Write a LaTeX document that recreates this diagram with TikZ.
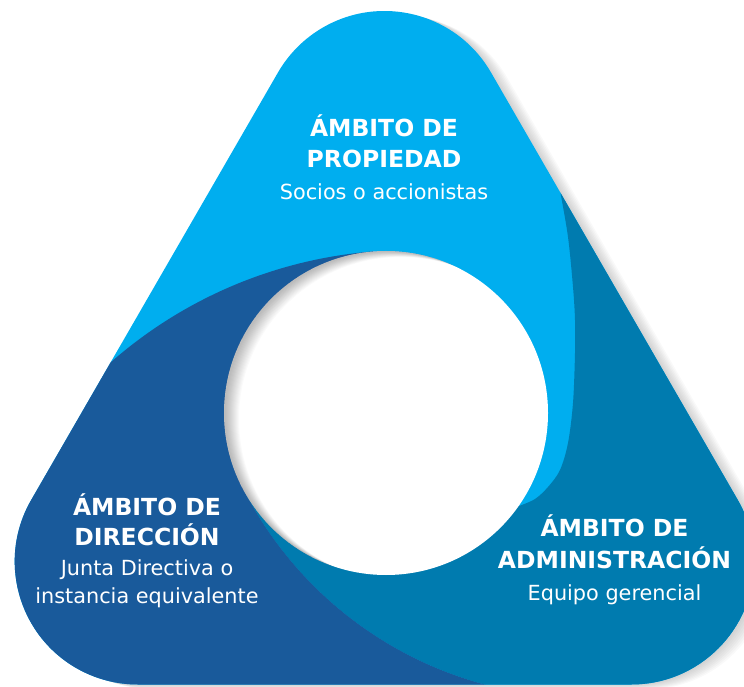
\documentclass[tikz,border=0pt]{standalone}
\usepackage{fontspec}
\setmainfont{DejaVu Sans}
\definecolor{lightb}{RGB}{0,174,239}
\definecolor{tealb}{RGB}{0,123,175}
\definecolor{darkb}{RGB}{25,90,155}
\begin{document}
\begin{tikzpicture}[x=1pt,y=1pt,
  tri/.style={insert path={(491.02,613.5) arc[start angle=30,end angle=150,radius=123] -- (31.18,186) arc[start angle=150,end angle=270,radius=123] -- (631.3,1.5) arc[start angle=270,end angle=390,radius=123] -- cycle}},
  ttl/.style={anchor=base, text=white, inner sep=0pt, font=\bfseries\fontsize{23.5}{28}\selectfont},
  subtxt/.style={anchor=base, text=white, inner sep=0pt, font=\fontsize{20.8}{25}\selectfont}]
\useasboundingbox (0,0) rectangle (744,686);
% soft drop shadow of the rounded triangle
\foreach \k in {2,4,...,16} \fill[black, opacity=0.025, shift={(\k,-0.3*\k)}, tri];
% coloured sectors
\begin{scope}
  \clip[tri];
  \fill[lightb] (-10,-10) rectangle (760,700);
  % administracion (teal)
  \fill[tealb] (241.0,201.6) -- (519,180)
     -- plot[smooth, tension=0.55] coordinates {(519,180) (535,187) (548,199) (560,216) (568,243) (573,283) (575,333) (575,366) (573,399) (568,449) (560,496) (553,536) (545,576)}
     -- (900,576) -- (900,-100) -- (550,-100) -- (549.96,-9.95)
     arc[start angle=265, end angle=206.2, radius=381.4] -- cycle;
  % direccion (dark blue)
  \fill[darkb] (373.28,434.6) -- (241.0,201.6)
     arc[start angle=206.2, end angle=265, radius=381.4]
     -- (550,-100) -- (-200,-100) -- (-200,262.51) -- (52.99,262.51)
     arc[start angle=142, end angle=94.5, radius=451.4] -- cycle;
\end{scope}
% central hole with inner shadow
\begin{scope}
  \clip (386,273) circle[radius=162];
  \fill[white] (386,273) circle[radius=163];
  \foreach \k in {2,3,...,15}
    \fill[black, opacity=0.018, even odd rule] (386,273) circle[radius=164] ({386+\k},{273-0.4*\k}) circle[radius=162];
\end{scope}
% texts
\node[ttl] (p1) at (384,549) {ÁMBITO DE};
\node[ttl] (p2) at (384,518) {PROPIEDAD};
\node[subtxt] (p3) at (384,486) {Socios o accionistas};
\node[ttl] (d1) at (147,170.3) {ÁMBITO DE};
\node[ttl] (d2) at (147,140.3) {DIRECCIÓN};
\node[subtxt] (d3) at (147,111) {Junta Directiva o};
\node[subtxt] (d4) at (147,83) {instancia equivalente};
\node[ttl] (a1) at (614.5,149.3) {ÁMBITO DE};
\node[ttl] (a2) at (614.5,118) {ADMINISTRACIÓN};
\node[subtxt] (a3) at (614.5,86) {Equipo gerencial};
\end{tikzpicture}
\end{document}
